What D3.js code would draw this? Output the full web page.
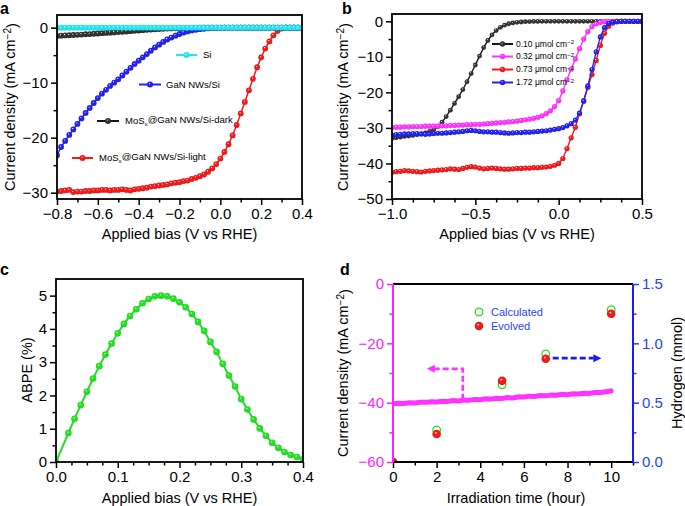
<!DOCTYPE html>
<html><head><meta charset="utf-8">
<script src="https://cdn.jsdelivr.net/npm/d3@7"></script>
<style>body{margin:0;background:#fff} svg{display:block} text{font-family:"Liberation Sans",Arial,Helvetica,sans-serif}</style>
</head><body><svg id="c" width="685" height="506"></svg>
<script>
// ---------- DATA ----------
// panel a: bias grid (V vs RHE), step 0.02
const biasA = d3.range(61).map(i => +(-0.8 + 0.02 * i).toFixed(3));
const siA = [0,0,0,0,0,0,0,0,0,0, 0,0,0,0,0,0,0,0,0,0, 0,0,0,0,0,0,0,0,0,0, 0,0,0,0,0,0,0,0,0,0, 0,0,0,0,0,0,0,0,0,0, 0,0,0,0,0,0,0,0,0,0,0];
const darkA = [-1.50,-1.46,-1.42,-1.38,-1.34,-1.30,-1.25,-1.20,-1.16,-1.11,
  -1.06,-1.01,-0.96,-0.91,-0.86,-0.81,-0.76,-0.70,-0.64,-0.58,
  -0.52,-0.46,-0.40,-0.35,-0.30,-0.25,-0.21,-0.17,-0.14,-0.11,
  -0.09,-0.07,-0.05,-0.04,-0.03,-0.02,-0.02,-0.01,-0.01,-0.01,
  0,0,0,0,0,0,0,0,0,0, 0,0,0,0,0,0,0,0,0,0,0];
const ganA = [-23.2,-21.7,-20.6,-19.5,-18.5,-17.5,-16.5,-15.5,-14.6,-13.7,
  -12.8,-12.0,-11.3,-10.6,-10.0,-9.4,-8.7,-8.0,-7.3,-6.6,
  -6.0,-5.4,-4.8,-4.2,-3.6,-3.1,-2.6,-2.15,-1.8,-1.45,
  -1.15,-0.9,-0.68,-0.5,-0.38,-0.28,-0.2,-0.13,-0.08,-0.05,
  -0.03,-0.02,-0.01,0,0,0,0,0,0,0, 0,0,0,0,0,0,0,0,0,0,0];
const lightA = [-29.8,-29.7,-29.6,-29.5,-29.9,-29.8,-29.8,-29.7,-29.7,-29.6,
  -29.6,-29.5,-29.5,-29.6,-29.5,-29.5,-29.4,-29.5,-29.6,-29.4,
  -29.3,-29.2,-29.1,-28.9,-28.8,-28.7,-28.6,-28.5,-28.3,-28.2,
  -28.1,-27.9,-27.8,-27.5,-27.3,-27.0,-26.7,-26.2,-25.6,-24.8,
  -23.8,-22.6,-21.2,-19.6,-17.7,-15.6,-13.5,-11.4,-9.3,-7.2,
  -5.4,-3.8,-2.5,-1.4,-0.6,-0.15,0,0,0,0,0];
const legendA = ["Si", "GaN NWs/Si", "MoSx@GaN NWs/Si-dark", "MoSx@GaN NWs/Si-light"];

// panel b: bias grid, step 0.025
const biasB = d3.range(61).map(i => +(-1.0 + 0.025 * i).toFixed(4));
const b010 = [-33.0,-32.8,-32.6,-32.4,-32.3,-32.1,-31.9,-31.7,-31.4,-31.0,
  -30.5,-29.6,-28.4,-26.8,-25.0,-23.1,-21.2,-19.2,-17.0,-14.7,
  -12.3,-9.8,-7.4,-5.4,-3.8,-2.6,-1.7,-1.1,-0.7,-0.45,
  -0.3,-0.2,-0.12,-0.08,-0.05,-0.03,-0.02,-0.01,0,0,
  0,0,0,0,0,0,0,0,0,0, 0,0,0,0,0,0,0,0,0,0,0];
const b032 = [-29.9,-29.8,-29.8,-29.7,-29.7,-29.6,-29.6,-29.6,-29.5,-29.5,
  -29.5,-29.4,-29.4,-29.4,-29.3,-29.3,-29.2,-29.2,-29.1,-29.1,
  -29.0,-29.0,-28.9,-28.8,-28.7,-28.6,-28.5,-28.4,-28.3,-28.2,
  -28.1,-27.9,-27.7,-27.5,-27.3,-27.0,-26.6,-26.0,-25.2,-24.0,
  -22.3,-19.6,-16.4,-13.5,-10.6,-7.7,-5.0,-2.9,-1.5,-0.7,
  -0.3,-0.1,0,0,0,0,0,0,0,0,0];
const b073 = [-42.5,-42.3,-42.2,-42.0,-42.1,-42.2,-42.3,-42.4,-42.2,-42.1,
  -42.0,-41.9,-41.8,-41.7,-41.5,-41.6,-41.7,-41.4,-41.1,-40.9,
  -41.0,-41.3,-41.5,-41.4,-41.3,-41.4,-41.5,-41.6,-41.6,-41.5,
  -41.4,-41.4,-41.3,-41.3,-41.2,-41.2,-41.1,-41.0,-40.8,-40.5,
  -40.0,-38.6,-35.8,-32.8,-29.8,-26.0,-22.3,-18.6,-15.0,-11.0,
  -6.8,-3.4,-1.4,-0.5,-0.15,0,0,0,0,0,0];
const b172 = [-32.0,-31.9,-31.8,-31.7,-31.7,-31.6,-31.6,-31.7,-31.8,-31.7,
  -31.6,-31.5,-31.5,-31.4,-31.3,-31.2,-31.1,-31.0,-30.8,-30.7,
  -30.8,-31.0,-31.1,-31.1,-31.2,-31.2,-31.3,-31.4,-31.5,-31.4,
  -31.3,-31.3,-31.2,-31.2,-31.1,-31.0,-30.9,-30.8,-30.6,-30.4,
  -30.2,-29.9,-29.4,-28.8,-27.8,-25.8,-22.5,-18.2,-13.6,-8.6,
  -4.4,-1.8,-0.6,-0.2,-0.05,0,0,0,0,0,0];
const legendB = ["0.10", "0.32", "0.73", "1.72"];

// panel c
const biasC = [0,0.02,0.03,0.04,0.05,0.06,0.07,0.08,0.09,0.10,0.11,0.12,0.13,0.14,0.15,0.16,0.17,0.18,0.19,0.20,
  0.21,0.22,0.23,0.24,0.25,0.26,0.27,0.28,0.29,0.30,0.31,0.32,0.33,0.34,0.35,0.36,0.37,0.38,0.39,0.40];
const abpe = [0,0.87,1.30,1.71,2.11,2.51,2.88,3.23,3.56,3.87,4.15,4.39,4.59,4.77,4.90,4.98,5.00,4.98,4.91,4.80,
  4.65,4.45,4.21,3.94,3.61,3.31,2.95,2.60,2.27,1.89,1.58,1.28,1.01,0.79,0.58,0.43,0.30,0.21,0.15,0.08];

// panel d
const timeD = d3.range(41).map(i => i * 0.25);
const currentD = [-40.4,-40.2,-40.3,-40.0,-40.1,-39.9,-39.9,-39.7,-39.8,-39.5,
  -39.6,-39.3,-39.4,-39.1,-39.2,-38.9,-39.0,-38.7,-38.8,-38.5,
  -38.6,-38.3,-38.4,-38.0,-38.1,-37.8,-37.9,-37.6,-37.7,-37.4,
  -37.5,-37.2,-37.3,-37.0,-37.1,-36.8,-36.9,-36.6,-36.6,-36.3,-36.1];
const hTime = [0, 2, 5, 7, 10];
const h2Calc = [0, 0.27, 0.65, 0.91, 1.283];
const h2Evol = [0, 0.236, 0.684, 0.87, 1.249];
const legendD = ["Calculated", "Evolved"];

// ---------- STYLE ----------
const C = {cyan:"#22e6f4", blue:"#2222f2", red:"#f21a1a", black:"#151515", pink:"#ff33ff", green:"#22e022",
  mag:"#ff22ff", axBlue:"#1a1aff", labBlue:"#1f44ff"};
const svg = d3.select("#c");
const defs = svg.append("defs");
function ball(id, color, k) {
  const g = defs.append("radialGradient").attr("id", id)
    .attr("cx","50%").attr("cy","50%").attr("r","55%").attr("fx","38%").attr("fy","32%");
  g.append("stop").attr("offset","0%").attr("stop-color","#ffffff");
  g.append("stop").attr("offset","30%").attr("stop-color",color);
  g.append("stop").attr("offset","75%").attr("stop-color",color);
  g.append("stop").attr("offset","100%").attr("stop-color",d3.color(color).darker(k).formatHex());
}
ball("gCyan", C.cyan, 0.5); ball("gBlue", C.blue, 0.6); ball("gRed", C.red, 0.6); ball("gBlack", "#333333", 0.8);
ball("gPink", C.pink, 0.5); ball("gGreen", C.green, 0.5);

function clip(id, x0, y0, x1, y1) {
  defs.append("clipPath").attr("id", id).append("rect")
    .attr("x", x0).attr("y", y0).attr("width", x1 - x0).attr("height", y1 - y0);
}

function axis(g, scale, orient, pos, major, minor, fmt, color, fs) {
  const mk = orient === "left" ? d3.axisLeft : orient === "right" ? d3.axisRight : d3.axisBottom;
  const tr = orient === "bottom" ? `translate(0,${pos})` : `translate(${pos},0)`;
  const gm = g.append("g").attr("transform", tr)
    .call(mk(scale).tickValues(minor).tickSize(3.5).tickSizeOuter(0).tickFormat(""));
  gm.select(".domain").remove();
  const gM = g.append("g").attr("transform", tr)
    .call(mk(scale).tickValues(major).tickSize(6).tickPadding(3).tickSizeOuter(0).tickFormat(d3.format(fmt)));
  gM.select(".domain").remove();
  [gm, gM].forEach(a => {
    a.selectAll("line").attr("stroke", color).attr("stroke-width", 1.5);
    a.selectAll("text").attr("fill", color).style("font-size", fs + "px");
  });
}

function series(g, x, y, xs, ys, color, grad, r, lw) {
  const pts = xs.map((v, i) => [v, ys[i]]);
  g.append("path").datum(pts).attr("fill","none").attr("stroke",color).attr("stroke-width",lw)
    .attr("d", d3.line().x(d => x(d[0])).y(d => y(d[1])));
  g.selectAll(null).data(pts).join("circle")
    .attr("cx", d => x(d[0])).attr("cy", d => y(d[1])).attr("r", r)
    .attr("fill", `url(#${grad})`);
}

function ytitle(x, y, parts, color, size) {
  const t = svg.append("text").attr("transform", `translate(${x},${y}) rotate(-90)`)
    .attr("text-anchor","middle").attr("dy","0.35em").style("font-size", size + "px").attr("fill", color || "#000");
  parts(t);
}
function cdTitle(t) {
  t.append("tspan").text("Current density (mA cm");
  t.append("tspan").text("−2").attr("dy","-0.45em").style("font-size","0.7em");
  t.append("tspan").text(")").attr("dy","0.45em");
}
function xtitle(x, y, txt) {
  svg.append("text").attr("x", x).attr("y", y).attr("text-anchor","middle").attr("dy","0.35em")
    .style("font-size","14.5px").text(txt);
}
function plabel(x, y, t) {
  svg.append("text").attr("x", x).attr("y", y).style("font-size","16px").style("font-weight","bold").text(t);
}
function frame(g, x0, y0, x1, y1) {
  g.append("rect").attr("x", x0).attr("y", y0).attr("width", x1 - x0).attr("height", y1 - y0)
    .attr("fill","none").attr("stroke","#000").attr("stroke-width",1.8);
}

const FS = 15;

// ---------- PANEL A ----------
{
  const L = 57, R = 302, T = 15, B = 199;
  const x = d3.scaleLinear().domain([-0.8, 0.4]).range([L, R]);
  const y = d3.scaleLinear().domain([-31.15, 2.3]).range([B, T]);
  clip("clipA", L, T, R, B);
  const g = svg.append("g");
  const d = g.append("g").attr("clip-path","url(#clipA)");
  series(d, x, y, biasA, lightA, C.red, "gRed", 2.9, 1.5);
  series(d, x, y, biasA, darkA, C.black, "gBlack", 2.9, 1.5);
  series(d, x, y, biasA, ganA, C.blue, "gBlue", 2.9, 1.5);
  series(d, x, y, biasA, siA, C.cyan, "gCyan", 2.9, 1.5);
  axis(g, x, "bottom", B, [-0.8,-0.6,-0.4,-0.2,0,0.2,0.4], [-0.7,-0.5,-0.3,-0.1,0.1,0.3], ".1f", "#000", FS);
  axis(g, y, "left", L, [0,-10,-20,-30], [-5,-15,-25], "d", "#000", FS);
  frame(g, L, T, R, B);
  // legend
  const items = [
    {c:C.cyan, gr:"gCyan", x0:176, x1:197, y:55, tx:203},
    {c:C.blue, gr:"gBlue", x0:139, x1:161, y:84.5, tx:166},
    {c:C.black, gr:"gBlack", x0:97, x1:119, y:121, tx:125},
    {c:C.red, gr:"gRed", x0:72, x1:93, y:158, tx:99}
  ];
  items.forEach((it, i) => {
    g.append("line").attr("x1", it.x0).attr("x2", it.x1).attr("y1", it.y).attr("y2", it.y)
      .attr("stroke", it.c).attr("stroke-width", 2);
    g.append("circle").attr("cx", (it.x0 + it.x1) / 2).attr("cy", it.y).attr("r", 3).attr("fill", `url(#${it.gr})`);
    const t = g.append("text").attr("x", it.tx).attr("y", it.y).attr("dy","0.35em").style("font-size","9.5px");
    const lab = legendA[i];
    if (lab.startsWith("MoSx")) {
      t.append("tspan").text("MoS");
      t.append("tspan").text("x").attr("dy","0.3em").style("font-size","0.65em");
      t.append("tspan").text(lab.slice(4)).attr("dy","-0.3em");
    } else t.text(lab);
  });
  ytitle(10, 107, cdTitle, "#000", 14.5);
  xtitle((L + R) / 2, 234, "Applied bias (V vs RHE)");
  plabel(0, 14, "a");
}

// ---------- PANEL B ----------
{
  const L = 392, R = 642, T = 14, B = 199;
  const x = d3.scaleLinear().domain([-1.0, 0.5]).range([L, R]);
  const y = d3.scaleLinear().domain([-50, 2.05]).range([B, T]);
  clip("clipB", L, T, R, B);
  const g = svg.append("g");
  const d = g.append("g").attr("clip-path","url(#clipB)");
  series(d, x, y, biasB, b010, C.black, "gBlack", 2.4, 1.4);
  series(d, x, y, biasB, b032, C.pink, "gPink", 2.6, 1.4);
  series(d, x, y, biasB, b073, C.red, "gRed", 2.6, 1.4);
  series(d, x, y, biasB, b172, C.blue, "gBlue", 2.6, 1.4);
  axis(g, x, "bottom", B, [-1.0,-0.5,0,0.5], [-0.875,-0.75,-0.625,-0.375,-0.25,-0.125,0.125,0.25,0.375], ".1f", "#000", FS);
  axis(g, y, "left", L, [0,-10,-20,-30,-40,-50], [-5,-15,-25,-35,-45], "d", "#000", FS);
  frame(g, L, T, R, B);
  const cols = [[C.black,"gBlack"],[C.pink,"gPink"],[C.red,"gRed"],[C.blue,"gBlue"]];
  const ys = [44, 56.5, 69.5, 82.5];
  legendB.forEach((lab, i) => {
    g.append("line").attr("x1", 492).attr("x2", 513).attr("y1", ys[i]).attr("y2", ys[i])
      .attr("stroke", cols[i][0]).attr("stroke-width", 2);
    g.append("circle").attr("cx", 502.5).attr("cy", ys[i]).attr("r", 2.7).attr("fill", `url(#${cols[i][1]})`);
    const t = g.append("text").attr("x", 516).attr("y", ys[i]).attr("dy","0.35em").style("font-size","8.5px");
    t.append("tspan").text(lab + " μmol cm");
    t.append("tspan").text("−2").attr("dy","-0.45em").style("font-size","0.7em");
  });
  ytitle(343, 107, cdTitle, "#000", 14.5);
  xtitle((L + R) / 2, 234, "Applied bias (V vs RHE)");
  plabel(342, 14, "b");
}

// ---------- PANEL C ----------
{
  const L = 56, R = 303, T = 279, B = 462;
  const x = d3.scaleLinear().domain([0, 0.4]).range([L, R]);
  const y = d3.scaleLinear().domain([0, 5.5]).range([B, T]);
  clip("clipC", L, T, R, B);
  const g = svg.append("g");
  const d = g.append("g").attr("clip-path","url(#clipC)");
  series(d, x, y, biasC, abpe, C.green, "gGreen", 3.3, 2);
  axis(g, x, "bottom", B, [0,0.1,0.2,0.3,0.4], [0.025,0.05,0.075,0.125,0.15,0.175,0.225,0.25,0.275,0.325,0.35,0.375], ".1f", "#000", FS);
  axis(g, y, "left", L, [0,1,2,3,4,5], [0.5,1.5,2.5,3.5,4.5], "d", "#000", FS);
  frame(g, L, T, R, B);
  ytitle(27, 370, t => t.text("ABPE (%)"), "#000", 14.5);
  xtitle((L + R) / 2, 498, "Applied bias (V vs RHE)");
  plabel(0, 275, "c");
}

// ---------- PANEL D ----------
{
  const L = 393, R = 633, T = 284, B = 462;
  const x = d3.scaleLinear().domain([0, 11]).range([L, R]);
  const yL = d3.scaleLinear().domain([-60, 0]).range([B, T]);
  const yR = d3.scaleLinear().domain([0, 1.5]).range([B, T]);
  clip("clipD", L, T, R, B);
  const g = svg.append("g");
  const d = g.append("g").attr("clip-path","url(#clipD)");
  d.append("path").datum(timeD.map((t, i) => [t, currentD[i]])).attr("fill","none")
    .attr("stroke", C.pink).attr("stroke-width", 5).attr("stroke-linecap","round")
    .attr("d", d3.line().x(p => x(p[0])).y(p => yL(p[1])));
  // arrows (in data coordinates)
  const pinkArrow = [[3.2, -39.0], [3.2, -28.6], [1.85, -28.6]];
  d.append("path").datum(pinkArrow).attr("fill","none").attr("stroke", C.pink).attr("stroke-width", 2.6)
    .attr("stroke-dasharray","6,3").attr("d", d3.line().x(p => x(p[0])).y(p => yL(p[1])));
  const ax = x(1.55), ay = yL(-28.6);
  d.append("path").attr("d", `M${ax},${ay} l8,-4 l0,8 z`).attr("fill", C.pink);
  const blueArrow = [[7.32, 0.875], [9.2, 0.875]];
  d.append("path").datum(blueArrow).attr("fill","none").attr("stroke", C.axBlue).attr("stroke-width", 2.6)
    .attr("stroke-dasharray","6,3").attr("d", d3.line().x(p => x(p[0])).y(p => yR(p[1])));
  const bx = x(9.55), by = yR(0.875);
  d.append("path").attr("d", `M${bx},${by} l-8,-4 l0,8 z`).attr("fill", C.axBlue);
  // hydrogen points
  d.selectAll(null).data(hTime.map((t, i) => [t, h2Calc[i]])).join("circle")
    .attr("cx", p => x(p[0])).attr("cy", p => yR(p[1])).attr("r", 3.8)
    .attr("fill","none").attr("stroke", C.green).attr("stroke-width", 1.3);
  d.selectAll(null).data(hTime.map((t, i) => [t, h2Evol[i]])).join("circle")
    .attr("cx", p => x(p[0])).attr("cy", p => yR(p[1])).attr("r", 4.3)
    .attr("fill","url(#gRed)");
  axis(g, x, "bottom", B, [0,2,4,6,8,10], [1,3,5,7,9,11], "d", "#000", FS);
  axis(g, yL, "left", L, [0,-20,-40,-60], [-10,-30,-50], "d", C.mag, FS);
  axis(g, yR, "right", R, [0,0.5,1.0,1.5], [0.25,0.75,1.25], ".1f", C.labBlue, FS);
  g.append("line").attr("x1", L).attr("x2", R).attr("y1", T).attr("y2", T).attr("stroke","#000").attr("stroke-width",1.8);
  g.append("line").attr("x1", L).attr("x2", R).attr("y1", B).attr("y2", B).attr("stroke","#000").attr("stroke-width",1.8);
  g.append("line").attr("x1", L).attr("x2", L).attr("y1", T).attr("y2", B).attr("stroke", C.mag).attr("stroke-width",2);
  g.append("line").attr("x1", R).attr("x2", R).attr("y1", T).attr("y2", B).attr("stroke", C.axBlue).attr("stroke-width",2);
  // legend
  g.append("circle").attr("cx", 479).attr("cy", 312).attr("r", 3.8).attr("fill","none").attr("stroke", C.green).attr("stroke-width",1.3);
  g.append("circle").attr("cx", 479).attr("cy", 326).attr("r", 4.3).attr("fill","url(#gRed)");
  legendD.forEach((lab, i) => {
    g.append("text").attr("x", 491).attr("y", 312 + 14 * i).attr("dy","0.35em")
      .style("font-size","11px").attr("fill", C.labBlue).text(lab);
  });
  ytitle(343, 373, cdTitle, "#000", 14.5);
  ytitle(677, 373, t => t.text("Hydrogen (mmol)"), "#000", 14.5);
  xtitle(516, 498, "Irradiation time (hour)");
  plabel(340, 275, "d");
}
</script>
</body></html>
